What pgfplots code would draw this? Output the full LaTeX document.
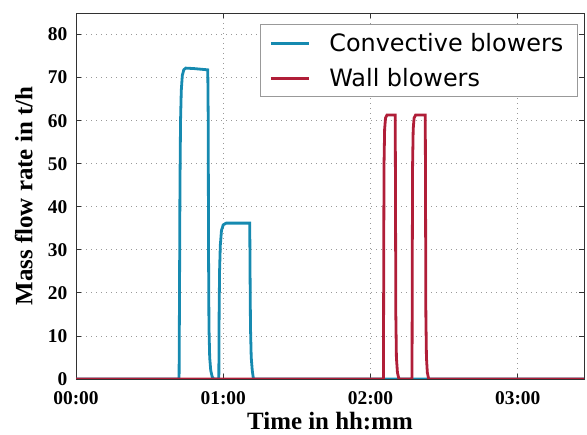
\documentclass[border=0pt]{standalone}
\usepackage{fontspec}
\setmainfont{Liberation Serif}
\newfontfamily\legfont{DejaVu Sans}
\usepackage{pgfplots}
\pgfplotsset{compat=1.18}

\definecolor{convcol}{RGB}{22,138,176}
\definecolor{wallcol}{RGB}{176,30,56}
\definecolor{framecol}{RGB}{50,50,50}

\begin{document}
\begin{tikzpicture}
\begin{axis}[
    name=ax, at={(0,0)}, anchor=south west,
    scale only axis, width=508bp, height=366bp,
    xmin=0, xmax=3.45, ymin=0, ymax=85,
    xtick={0,1,2,3},
    xticklabels={00:00,01:00,02:00,03:00},
    ytick={0,10,...,80},
    /pgf/number format/assume math mode=true,
    tick label style={font=\fontsize{19.5}{21}\selectfont\bfseries, inner sep=1bp},
    xticklabel style={yshift=-11.5bp},
    yticklabel style={xshift=-7.5bp},
    label style={font=\fontsize{25}{27}\selectfont\bfseries, inner sep=1bp},
    xlabel={Time in hh:mm},
    ylabel={Mass flow rate in t/h},
    xlabel style={at={(axis description cs:0.5,0)}, anchor=base, yshift=-50bp},
    ylabel style={yshift=13bp},
    axis line style={framecol, line width=1pt},
    tick style={framecol, line width=0.8pt},
    tick align=inside, major tick length=5bp,
    grid=major,
    major grid style={gray!80, line width=0.8pt, dash pattern=on 1.2bp off 3.8bp},
    legend cell align=left,
    legend style={at={(0.988,0.970)}, anchor=north east,
        draw=gray!80, line width=1.2pt, fill=white,
        font=\legfont\fontsize{24}{26}\selectfont,
        inner xsep=9bp, inner ysep=7bp, row sep=11bp,
        nodes={inner xsep=5bp},
        /tikz/every odd column/.append style={column sep=14bp}},
    legend image code/.code={\draw[#1, line width=3bp] (0bp,0bp) -- (38bp,0bp);},
]
\addplot[convcol, line width=2.8bp] coordinates {
    (0,0) (0.700,0) (0.703,20) (0.706,45) (0.710,60) (0.715,67) (0.722,70.5)
    (0.732,71.8) (0.745,72.2) (0.80,72.1) (0.895,71.8)
    (0.898,60) (0.900,30) (0.903,12) (0.908,5) (0.915,2) (0.925,0.5) (0.935,0)
    (0.970,0) (0.972,15) (0.975,25) (0.980,31) (0.988,34.5) (1.000,35.8)
    (1.02,36.2) (1.18,36.2)
    (1.182,25) (1.185,12) (1.19,5) (1.197,2) (1.205,0) (3.45,0)
};
\addlegendentry{Convective blowers}
\addplot[wallcol, line width=2.8bp] coordinates {
    (0,0) (2.088,0) (2.090,30) (2.092,50) (2.096,58) (2.102,60.6) (2.112,61.3)
    (2.168,61.3) (2.170,40) (2.172,15) (2.176,5) (2.183,1.5) (2.193,0)
    (2.282,0) (2.284,30) (2.286,50) (2.290,58) (2.296,60.6) (2.306,61.3)
    (2.372,61.3) (2.374,40) (2.376,15) (2.380,5) (2.386,1.5) (2.395,0) (3.45,0)
};
\addlegendentry{Wall blowers}
\end{axis}
\pgfresetboundingbox
\path (-76bp,-56bp) rectangle (511bp,379bp);
\end{tikzpicture}
\end{document}
